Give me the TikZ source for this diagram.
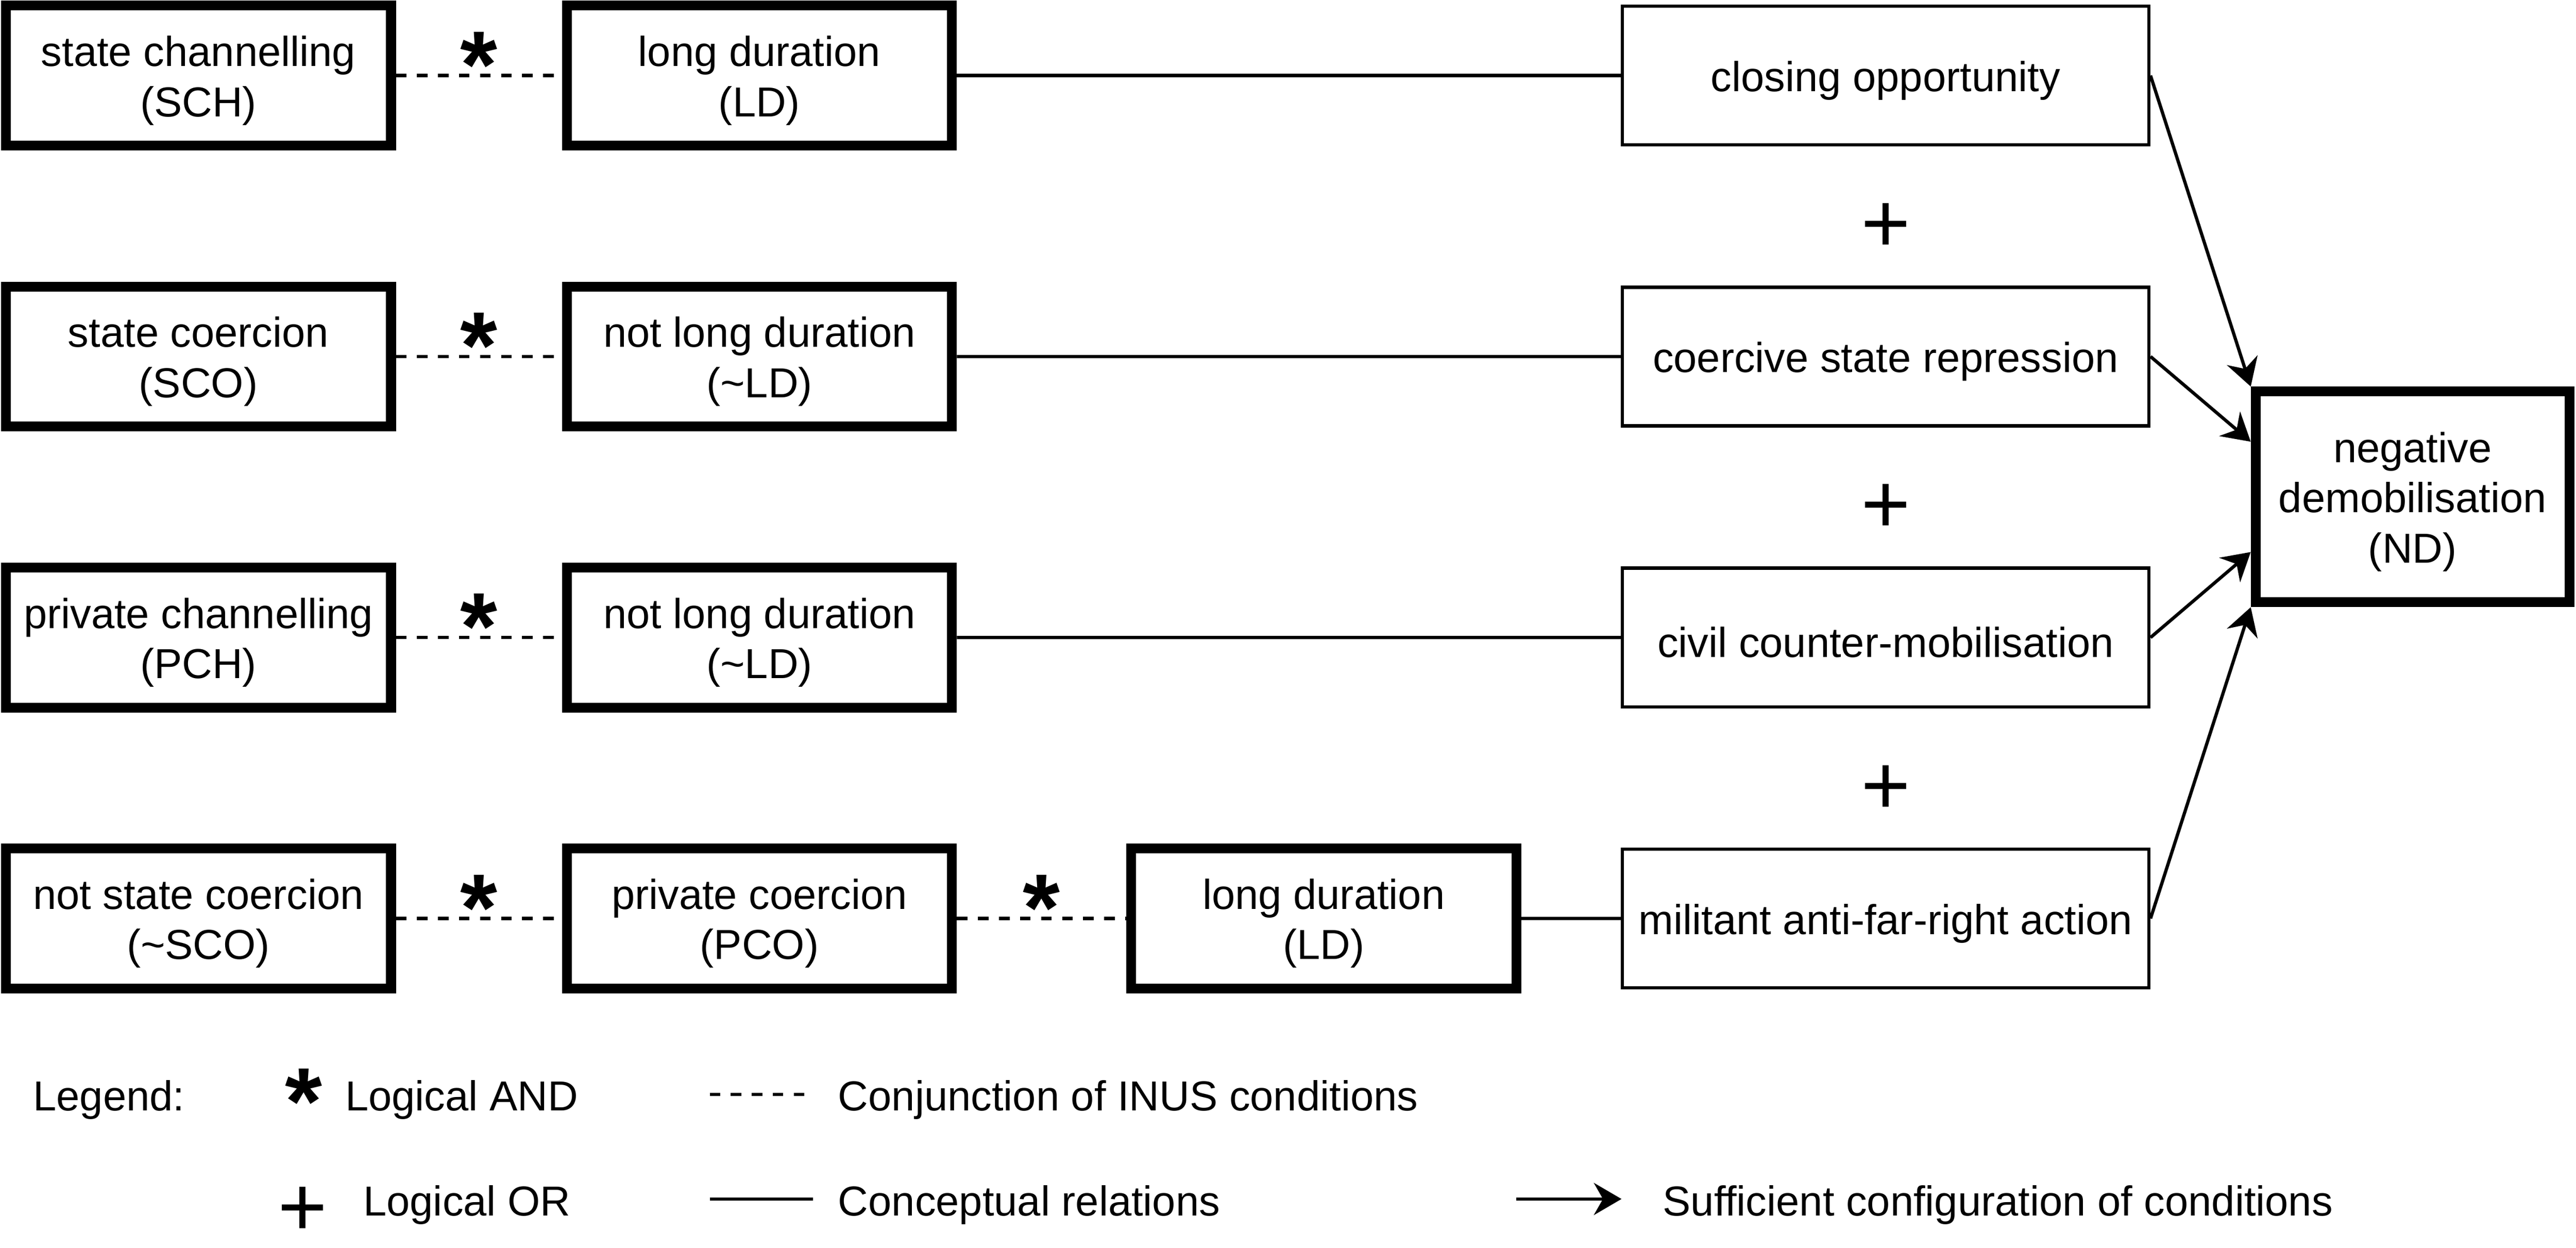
\documentclass[tikz,border=0pt]{standalone}
\usepackage{fontspec}
\setmainfont{Liberation Sans}
\usetikzlibrary{positioning, calc, arrows.meta}
\newcommand{\padtop}{\rule{0pt}{24.5pt}}

\begin{document}
\begin{tikzpicture}[x=1pt, y=-1pt,
  font=\fontsize{25.5}{30.6}\selectfont,
  boxtext/.style={align=center, inner sep=0pt},
  cond/.style={draw, line width=6pt, minimum width=234.5pt, minimum height=85.2pt, boxtext},
  outc/.style={draw, line width=2pt, minimum width=320.5pt, minimum height=84.4pt, boxtext},
  result/.style={draw, line width=6pt, minimum width=191pt, minimum height=128.3pt, boxtext},
  andline/.style={line width=2pt, dash pattern=on 6.4pt off 6.4pt},
  conline/.style={line width=2pt},
  suff/.style={line width=2pt, -{Stealth[length=16.8pt, width=19.5pt, inset=5.5pt]}},
  andmark/.style={font=\fontsize{58}{58}\selectfont\bfseries, inner sep=0pt, anchor=base, yshift=-13.4pt},
  ormark/.style={font=\fontsize{51.5}{51.5}\selectfont, inner sep=0pt, anchor=base, yshift=-22pt},
  legtext/.style={anchor=base west, inner sep=0pt}]
\useasboundingbox (0,0) rectangle (1568,759.4);

\node[cond] (sch) at (120.75,46) {\padtop state channelling\\(SCH)};
\node[cond, right=101pt of sch] (ld1) {\padtop long duration\\(LD)};
\node[cond, below=79.8pt of sch] (sco) {\padtop state coercion\\(SCO)};
\node[cond, right=101pt of sco] (nld1) {\padtop not long duration\\(\textasciitilde LD)};
\node[cond, below=79.8pt of sco] (pch) {\padtop private channelling\\(PCH)};
\node[cond, right=101pt of pch] (nld2) {\padtop not long duration\\(\textasciitilde LD)};
\node[cond, below=79.8pt of pch] (nsco) {\padtop not state coercion\\(\textasciitilde SCO)};
\node[cond, right=101pt of nsco] (pco) {\padtop private coercion\\(PCO)};
\node[cond, right=103pt of pco] (ld2) {\padtop long duration\\(LD)};

\node[outc] (co) at (1147.75,46) {\padtop closing opportunity};
\node[outc, below=84.6pt of co] (csr) {\padtop coercive state repression};
\node[outc, below=84.6pt of csr] (ccm) {\padtop civil counter-mobilisation};
\node[outc, below=84.6pt of ccm] (mafr) {\padtop militant anti-far-right action};
\node[result] (nd) at (1468.5,302.4) {\padtop negative\\demobilisation\\(ND)};

\draw[andline] (sch) -- (ld1);
\draw[andline] (sco) -- (nld1);
\draw[andline] (pch) -- (nld2);
\draw[andline] (nsco) -- (pco);
\draw[andline] (pco) -- (ld2);
\node[andmark] at ($(sch.east)!.5!(ld1.west)$) {*};
\node[andmark] at ($(sco.east)!.5!(nld1.west)$) {*};
\node[andmark] at ($(pch.east)!.5!(nld2.west)$) {*};
\node[andmark] at ($(nsco.east)!.5!(pco.west)$) {*};
\node[andmark] at ($(pco.east)!.5!(ld2.west)$) {*};

\draw[conline] (ld1) -- (co);
\draw[conline] (nld1) -- (csr);
\draw[conline] (nld2) -- (ccm);
\draw[conline] (ld2) -- (mafr);
\node[ormark] at ($(co.south)!.5!(csr.north)$) {+};
\node[ormark] at ($(csr.south)!.5!(ccm.north)$) {+};
\node[ormark] at ($(ccm.south)!.5!(mafr.north)$) {+};

\draw[suff] (co.east) -- (nd.north west);
\draw[suff] (csr.east) -- ($(nd.north west)!.25!(nd.south west)$);
\draw[suff] (ccm.east) -- ($(nd.north west)!.75!(nd.south west)$);
\draw[suff] (mafr.east) -- (nd.south west);

% legend
\node[legtext] (leg) at (20,676) {Legend:};
\node[andmark] (legand) at (184.8,676.9) {*};
\node[legtext] (andtxt) at (210,676) {Logical AND};
\coordinate (dash1) at (432,666);
\coordinate (dash2) at (490,666);
\draw[andline] (dash1) -- (dash2);
\node[legtext] (inustxt) at (510,676) {Conjunction of INUS conditions};
\node[ormark] (legor) at (184.3,730.1) {+};
\node[legtext] (ortxt) at (221,740) {Logical OR};
\coordinate (con1) at (432,729.7);
\coordinate (con2) at (495,729.7);
\draw[conline] (con1) -- (con2);
\node[legtext] (contxt) at (510,740) {Conceptual relations};
\coordinate (suf1) at (923,729.7);
\coordinate (suf2) at (987,729.7);
\draw[suff] (suf1) -- (suf2);
\node[legtext] (suftxt) at (1012,740) {Sufficient configuration of conditions};
\end{tikzpicture}
\end{document}
